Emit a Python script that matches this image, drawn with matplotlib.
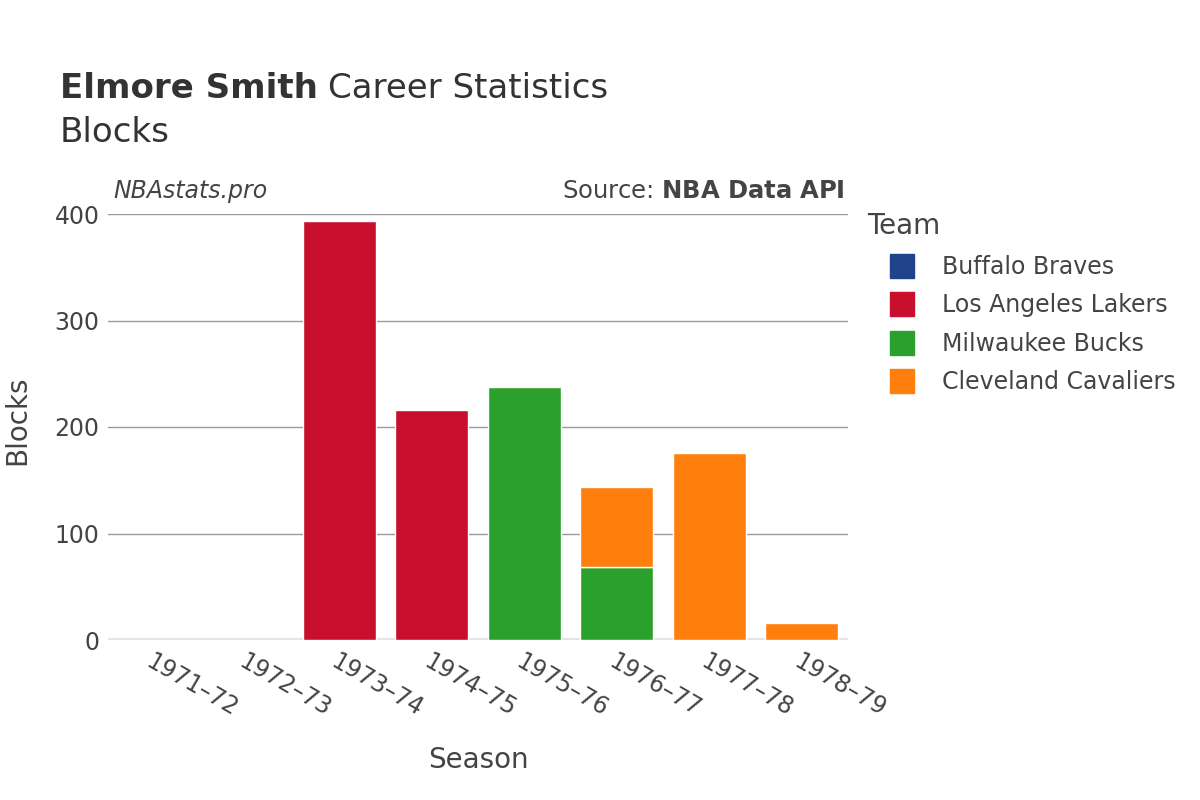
import matplotlib.pyplot as plt
from matplotlib.lines import Line2D
import numpy as np

# data
seasons = ["1971–72", "1972–73", "1973–74", "1974–75", "1975–76", "1976–77", "1977–78", "1978–79"]
teams = ["Buffalo Braves", "Los Angeles Lakers", "Milwaukee Bucks", "Cleveland Cavaliers"]
colors = ["#1f428a", "#c8102e", "#2ca02c", "#ff7f0e"]
blocks = {
    "Buffalo Braves":      [0, 0, 0, 0, 0, 0, 0, 0],
    "Los Angeles Lakers":  [0, 0, 393, 216, 0, 0, 0, 0],
    "Milwaukee Bucks":     [0, 0, 0, 0, 238, 69, 0, 0],
    "Cleveland Cavaliers": [0, 0, 0, 0, 0, 75, 176, 16],
}

txt = "#444444"
plt.rcParams['font.family'] = ['DejaVu Sans']

fig = plt.figure(figsize=(12, 8), dpi=100)
ax = fig.add_axes([108/1200, 1 - 640/800, 740/1200, 426/800])

x = np.arange(len(seasons))
bottom = np.zeros(len(seasons))
for team, col in zip(teams, colors):
    vals = np.array(blocks[team], dtype=float)
    mask = vals > 0
    if mask.any():
        ax.bar(x[mask], vals[mask], width=0.79, bottom=bottom[mask], color=col,
               edgecolor="white", linewidth=1, zorder=3)
    bottom += vals

ax.set_xlim(-0.5, len(seasons) - 0.5)
ax.set_ylim(0, 400)
ax.set_yticks([0, 100, 200, 300, 400])
ax.set_xticks(x)
ax.set_xticklabels(seasons, rotation=-30, ha="left", rotation_mode="anchor")
ax.tick_params(axis="both", length=0, labelsize=17, colors=txt)
ax.tick_params(axis="x", pad=7)
ax.tick_params(axis="y", pad=6)
ax.grid(axis="y", color="#999999", linewidth=1, zorder=0)
ax.axhline(0, color="#e5e5e5", linewidth=3, zorder=2)
for s in ax.spines.values():
    s.set_visible(False)

ax.set_xlabel("Season", fontsize=20, color=txt)
ax.xaxis.set_label_coords(370/740, -(746 - 640)/426)
ax.set_ylabel("Blocks", fontsize=20, color=txt)
ax.yaxis.set_label_coords(-(108 - 31)/740, (640 - 420)/426)

# titles
fig.text(60/1200, 1 - 88/800, "Elmore Smith", fontsize=24.5, fontweight="bold", color="#333333", va="center")
fig.text(328/1200, 1 - 88/800, "Career Statistics", fontsize=24.5, color="#333333", va="center")
fig.text(60/1200, 1 - 132/800, "Blocks", fontsize=24.5, color="#333333", va="center")
fig.text(113/1200, 1 - 191/800, "NBAstats.pro", fontsize=17, style="italic", color=txt, va="center")
fig.text(845/1200, 1 - 191/800, "Source: $\\bf{NBA\\ Data\\ API}$", fontsize=17.5, color=txt, va="center", ha="right")

# legend
fig.text(867/1200, 1 - 226/800, "Team", fontsize=20, color=txt, va="center")
handles = [Line2D([], [], linestyle="none", marker="s", markersize=17, color=c) for c in colors]
leg = fig.legend(handles, teams, loc="upper left", bbox_to_anchor=(888/1200, 1 - 255/800),
                 frameon=False, fontsize=17, handlelength=1.2, handletextpad=1.1,
                 labelspacing=0.61, borderaxespad=0, borderpad=0)
for t in leg.get_texts():
    t.set_color(txt)

fig.savefig("out.png", dpi=100, facecolor="white")
